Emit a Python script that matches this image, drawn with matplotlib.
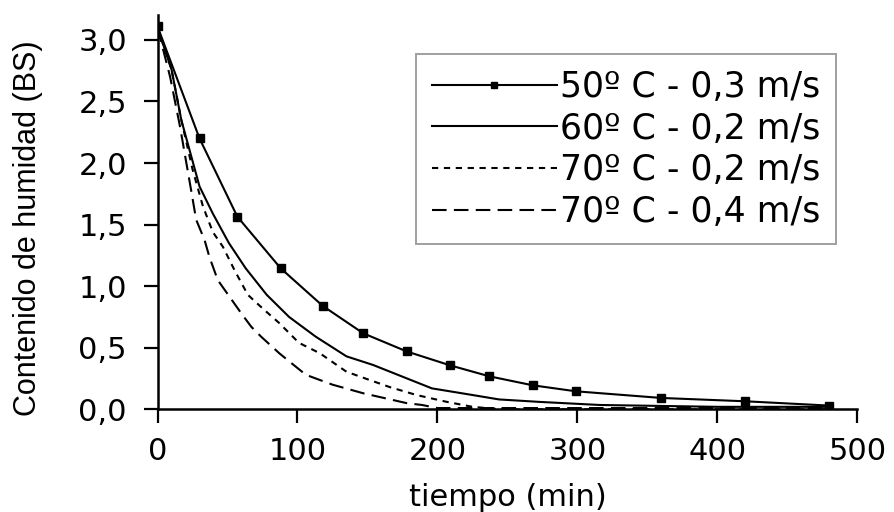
import matplotlib.pyplot as plt
import matplotlib.ticker as mticker

# 50 C - 0,3 m/s (with markers)
t50 = [0, 30, 57, 88, 118, 147, 178, 209, 237, 268, 299, 360, 420, 480]
h50 = [3.11, 2.20, 1.565, 1.145, 0.84, 0.617, 0.47, 0.357, 0.268, 0.195, 0.146, 0.092, 0.065, 0.03]

# 60 C - 0,2 m/s
t60 = [0, 10, 17, 30, 39.5, 51, 63, 78, 94, 113, 135, 154, 196, 225, 244, 273, 316, 400, 480]
h60 = [3.10, 2.76, 2.35, 1.81, 1.59, 1.35, 1.145, 0.93, 0.75, 0.59, 0.43, 0.36, 0.17, 0.116, 0.08, 0.06, 0.035, 0.02, 0.02]

# 70 C - 0,2 m/s
t70a = [0, 10, 17, 25, 32.4, 39.5, 46.7, 55, 64.5, 75, 87, 101, 116, 135, 151, 166, 185, 206, 225, 245, 300, 480]
h70a = [3.10, 2.76, 2.35, 1.95, 1.65, 1.44, 1.32, 1.13, 0.93, 0.82, 0.70, 0.54, 0.455, 0.305, 0.24, 0.18, 0.116, 0.062, 0.02, 0.0, 0.0, 0.0]

# 70 C - 0,4 m/s
t70b = [0, 9, 16, 24, 27.6, 33.6, 37, 43, 51.4, 59.8, 67, 74, 87, 94, 106, 125, 147, 178, 189, 200, 300, 480]
h70b = [3.10, 2.70, 2.30, 1.78, 1.54, 1.375, 1.24, 1.05, 0.915, 0.78, 0.67, 0.59, 0.455, 0.39, 0.28, 0.20, 0.13, 0.05, 0.035, 0.01, 0.01, 0.01]

labels = ["50º C - 0,3 m/s", "60º C - 0,2 m/s", "70º C - 0,2 m/s", "70º C - 0,4 m/s"]

plt.rcParams['font.family'] = ['DejaVu Sans']

fig = plt.figure(figsize=(8.95, 5.12), dpi=100)
ax = fig.add_axes([0.176, 0.2006, 0.782, 0.7695])

ax.plot(t50, h50, color='black', lw=1.5, marker='s', ms=5.5, label=labels[0])
ax.plot(t60, h60, color='black', lw=1.5, label=labels[1])
ax.plot(t70a, h70a, color='black', lw=1.5, ls=(0, (3, 2.7)), label=labels[2])
ax.plot(t70b, h70b, color='black', lw=1.5, ls=(0, (7, 3.5)), label=labels[3])

ax.set_xlim(0, 500)
ax.set_ylim(0, 3.2)
ax.set_xticks([0, 100, 200, 300, 400, 500])
ax.set_yticks([0, 0.5, 1.0, 1.5, 2.0, 2.5, 3.0])
ax.yaxis.set_major_formatter(mticker.FuncFormatter(lambda v, p: f"{v:.1f}".replace('.', ',')))

for s in ['top', 'right']:
    ax.spines[s].set_visible(False)
for s in ['left', 'bottom']:
    ax.spines[s].set_linewidth(1.8)
ax.tick_params(direction='out', length=10, width=1.6)
ax.tick_params(axis='y', labelsize=22, pad=12)
ax.tick_params(axis='x', labelsize=22, pad=10)

ax.set_xlabel('tiempo (min)', fontsize=22, labelpad=12)
ax.set_ylabel('Contenido de humidad (BS)', fontsize=22,
              family=['Liberation Sans', 'DejaVu Sans'])
ax.yaxis.set_label_coords(-0.163, 0.46)

leg = ax.legend(loc='upper right', bbox_to_anchor=(0.97, 0.901), borderaxespad=0,
                fontsize=25, handlelength=3.6, handletextpad=0.1, labelspacing=0.22,
                frameon=True, fancybox=False, borderpad=0.45, markerscale=0.7)
leg.get_frame().set_edgecolor('#888888')
leg.get_frame().set_linewidth(1.4)

fig.savefig('out.png', dpi=100)
